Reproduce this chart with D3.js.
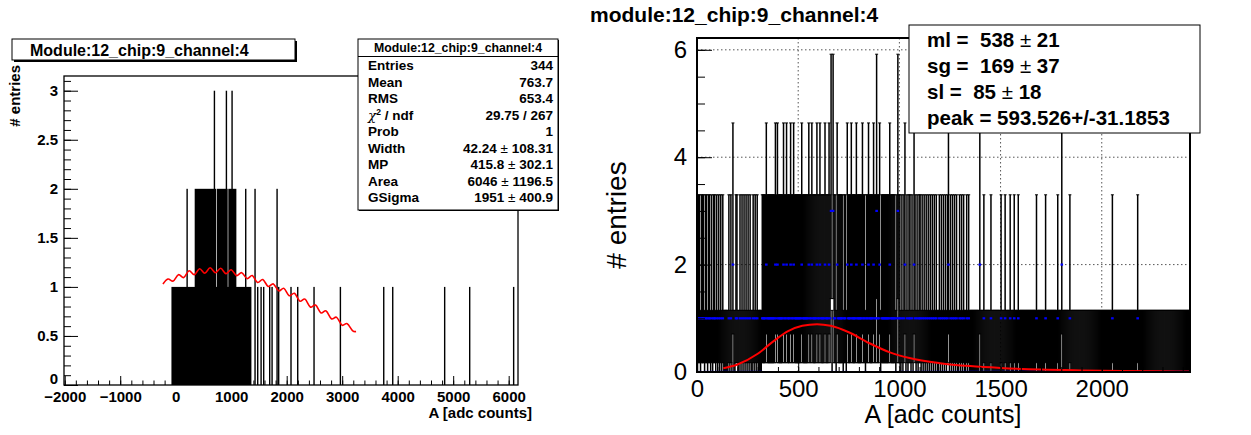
<!DOCTYPE html>
<html>
<head>
<meta charset="utf-8">
<script src="https://cdn.jsdelivr.net/npm/d3@7"></script>
<style>
  body { margin: 0; background: #fff; }
  text { font-family: "Liberation Sans", Arial, sans-serif; }
</style>
</head>
<body>
<svg id="chart" width="1251" height="435"></svg>
<script>
// ---------------- left panel data (histogram + langau fit) ----------------
var leftBinW = 20;
// contiguous runs of filled bins: [from, to, entries]
var leftRuns = [[-77, 1364, 1], [342, 727, 2], [739, 936, 2], [948, 1093, 2]];
var leftSpikes1 = [1465, 1526, 1573, 1681, 1724, 1843, 2065, 2186, 2480, 2955, 3736, 3898, 4834, 5285, 6077];
var leftSpikes2 = [193, 1249, 1417, 1814];
var leftSpikes3 = [685, 901, 1003];

var leftFitX = [-230, -140, -45, 50, 145, 240, 335, 430, 525, 620, 715, 810, 905, 1000, 1095, 1190, 1285, 1380,
  1475, 1570, 1665, 1760, 1855, 1950, 2045, 2140, 2235, 2330, 2425, 2520, 2615, 2710, 2805, 2900, 2995, 3090, 3185, 3250];
var leftFitY = [1.03, 1.08, 1.06, 1.125, 1.095, 1.165, 1.125, 1.185, 1.14, 1.195, 1.145, 1.19, 1.135, 1.175, 1.115, 1.145, 1.085, 1.115,
  1.045, 1.075, 1.005, 1.03, 0.96, 0.985, 0.91, 0.935, 0.855, 0.875, 0.795, 0.815, 0.735, 0.755, 0.675, 0.69, 0.61, 0.625, 0.555, 0.545];

var statNames = ["Entries", "Mean", "RMS", "chi2", "Prob", "Width", "MP", "Area", "GSigma"];
var statValues = [["344"], ["763.7"], ["653.4"], ["29.75 / 267"], ["1"], ["42.24", "108.31"], ["415.8", "302.1"], ["6046", "1196.5"], ["1951", "400.9"]];

var leftXTicks = [-2000, -1000, 0, 1000, 2000, 3000, 4000, 5000, 6000];
var leftYTicks = [0, 0.5, 1, 1.5, 2, 2.5, 3];

// ---------------- right panel data (error bars + fit) ----------------
var rBinW = 5;
var rCount1 = [5, 12, 20, 27, 33, 42, 48, 57, 63, 72, 80, 88, 97, 108, 118, 126,
  157, 166, 178, 190, 198, 212, 222, 233, 240, 253, 262, 277, 288, 298,
  322, 328, 333, 339, 346, 350, 356, 362, 368, 371, 377, 383, 390, 394, 401, 406, 412, 418, 423, 431, 437, 441,
  448, 452, 457, 466, 471, 476, 483, 488, 493, 498, 503, 508, 513, 522, 527, 533, 538, 543, 547, 556, 561, 571,
  576, 582, 587, 596, 601, 613, 618, 623, 628, 637, 643, 648, 657, 677, 683, 697, 703, 708, 713, 718, 727, 733,
  746, 752, 756, 767, 772, 778, 783, 793, 798, 803, 808, 814, 824, 829, 836, 842, 852, 857, 862, 867, 877, 882,
  893, 898, 910, 916, 922, 927, 933, 938, 944, 948, 957, 962, 968, 973, 978, 985, 997,
  1004, 1012, 1021, 1036, 1045, 1053, 1062, 1078, 1086, 1095, 1104, 1113, 1122, 1131, 1142, 1151, 1163, 1172,
  1184, 1196, 1207, 1218, 1226, 1237, 1252, 1261, 1274, 1283, 1296, 1307, 1318, 1331, 1342,
  1419, 1450, 1503, 1523, 1547, 1566, 1585, 1678, 1720, 1782, 1844, 2051, 2176];
var rCount2 = [176, 341, 385, 397, 427, 443, 460, 479, 517, 550, 566, 591, 608, 632, 653, 690, 740, 761, 789,
  819, 847, 872, 904, 954, 1028, 1070, 1243, 1399, 1803];
var rCount3 = [662, 670, 888, 992];
// Poisson 68% interval for 0..3 entries
var poisLo = [0, 0.173, 0.708, 1.367];
var poisHi = [1.148, 3.30, 4.638, 5.918];

var rightFitX = [130, 200, 300, 377, 450, 520, 593, 660, 750, 850, 950, 1050, 1200, 1350, 1500, 1700, 1900, 2100, 2300, 2436];
var rightFitY = [0.07, 0.14, 0.34, 0.57, 0.76, 0.86, 0.89, 0.86, 0.74, 0.54, 0.37, 0.26, 0.165, 0.11, 0.075, 0.045, 0.03, 0.02, 0.012, 0.008];

var fitLines = ["ml =  ", "sg =  ", "sl =  "];
var fitVals = [["538", "21"], ["169", "37"], ["85", "18"]];
var peakText = "peak = 593.526+/-31.1853";

var rightXTicks = [0, 500, 1000, 1500, 2000];
var rightYTicks = [0, 2, 4, 6];

var svg = d3.select("#chart");

// ================= LEFT PANEL =================
var lx = d3.scaleLinear().domain([-2013, 6168]).range([64, 518]);
var ly = d3.scaleLinear().domain([0, 3.15]).range([385, 76]);

svg.append("clipPath").attr("id", "clipL").append("rect")
  .attr("x", 64).attr("y", 76).attr("width", 454).attr("height", 309);

var gl = svg.append("g").attr("clip-path", "url(#clipL)");

gl.selectAll(".run").data(leftRuns).enter().append("rect")
  .attr("x", d => lx(d[0]))
  .attr("y", d => ly(d[2]))
  .attr("width", d => lx(d[1]) - lx(d[0]))
  .attr("height", d => ly(0) - ly(d[2]))
  .attr("fill", "#000");

var spikes = leftSpikes1.map(v => [v, 1]).concat(leftSpikes2.map(v => [v, 2]), leftSpikes3.map(v => [v, 3]));
gl.selectAll(".spike").data(spikes).enter().append("rect")
  .attr("x", d => lx(d[0]))
  .attr("y", d => ly(d[1]))
  .attr("width", Math.max(1.4, lx(leftBinW) - lx(0)))
  .attr("height", d => ly(0) - ly(d[1]))
  .attr("fill", "#000");

var leftLine = d3.line().x(d => lx(d[0])).y(d => ly(d[1])).curve(d3.curveCardinal);
gl.append("path")
  .attr("d", leftLine(leftFitX.map((x, i) => [x, leftFitY[i]])))
  .attr("fill", "none").attr("stroke", "#ff0000").attr("stroke-width", 1.6);

// axes (ticks inside the frame, ROOT style)
svg.append("g").attr("transform", "translate(0,385)")
  .call(d3.axisBottom(lx).tickValues(d3.range(-2000, 6101, 200)).tickSizeInner(-4.5).tickSizeOuter(0).tickFormat(""))
  .call(g => g.select(".domain").remove());
var lxa = svg.append("g").attr("transform", "translate(0,385)")
  .call(d3.axisBottom(lx).tickValues(leftXTicks).tickSizeInner(-9).tickSizeOuter(0).tickPadding(6).tickFormat(d3.format("d")));
lxa.select(".domain").remove();
lxa.selectAll("text").attr("font-size", 15).attr("font-weight", "bold").attr("fill", "#000");

svg.append("g").attr("transform", "translate(64,0)")
  .call(d3.axisLeft(ly).tickValues(d3.range(0, 3.11, 0.1)).tickSizeInner(-7).tickSizeOuter(0).tickFormat(""))
  .call(g => g.select(".domain").remove());
var lya = svg.append("g").attr("transform", "translate(64,0)")
  .call(d3.axisLeft(ly).tickValues(leftYTicks).tickSizeInner(-14).tickSizeOuter(0).tickPadding(6).tickFormat(d3.format("")));
lya.select(".domain").remove();
lya.selectAll("text").attr("font-size", 15).attr("font-weight", "bold").attr("fill", "#000");
// ROOT pushes the "0" label up a little so it sits above the x labels
lya.selectAll("text").filter(d => d === 0).attr("dy", "-0.1em");

svg.append("rect").attr("x", 64).attr("y", 76).attr("width", 454).attr("height", 309)
  .attr("fill", "none").attr("stroke", "#000").attr("stroke-width", 1.3);

svg.append("text").attr("x", 532).attr("y", 418).attr("text-anchor", "end")
  .attr("font-size", 15).attr("font-weight", "bold").text("A [adc counts]");
svg.append("text").attr("transform", "translate(20,65) rotate(-90)").attr("text-anchor", "end")
  .attr("font-size", 15).attr("font-weight", "bold").text("# entries");

// title box
svg.append("rect").attr("x", 14).attr("y", 41).attr("width", 283).attr("height", 21).attr("fill", "#000");
svg.append("rect").attr("x", 12).attr("y", 39).attr("width", 283).attr("height", 21)
  .attr("fill", "#fff").attr("stroke", "#000").attr("stroke-width", 1);
svg.append("text").attr("x", 30).attr("y", 55.5).attr("font-size", 16).attr("font-weight", "bold")
  .text("Module:12_chip:9_channel:4");

// stats box
svg.append("rect").attr("x", 359).attr("y", 40).attr("width", 200).attr("height", 171).attr("fill", "#000");
svg.append("rect").attr("x", 358).attr("y", 39).attr("width", 200).attr("height", 171)
  .attr("fill", "#fff").attr("stroke", "#000").attr("stroke-width", 1);
svg.append("line").attr("x1", 358).attr("x2", 558).attr("y1", 56.5).attr("y2", 56.5).attr("stroke", "#000");
svg.append("text").attr("x", 458).attr("y", 52).attr("text-anchor", "middle")
  .attr("font-size", 12.3).attr("font-weight", "bold").text("Module:12_chip:9_channel:4");

var rowY = d3.scaleLinear().domain([0, 8]).range([70, 202]);
statNames.forEach(function(name, i) {
  var t = svg.append("text").attr("x", 368).attr("y", rowY(i)).attr("font-size", 13.5).attr("font-weight", "bold");
  if (name === "chi2") {
    t.append("tspan").attr("font-family", "DejaVu Serif").attr("font-style", "italic").attr("font-weight", "normal").text("\u03c7");
    t.append("tspan").attr("dy", -5).attr("font-size", 8.5).text("2");
    t.append("tspan").attr("dy", 5).text(" / ndf");
  } else {
    t.text(name);
  }
  var v = svg.append("text").attr("x", 553).attr("y", rowY(i)).attr("text-anchor", "end")
    .attr("font-size", 13.5).attr("font-weight", "bold");
  var vals = statValues[i];
  v.append("tspan").text(vals[0]);
  if (vals.length > 1) {
    v.append("tspan").attr("font-weight", "normal").text(" \u00b1 ");
    v.append("tspan").text(vals[1]);
  }
});

// ================= RIGHT PANEL =================
var rx = d3.scaleLinear().domain([0, 2436]).range([697, 1190]);
var ry = d3.scaleLinear().domain([0, 6.22]).range([372, 38]);

svg.append("clipPath").attr("id", "clipR").append("rect")
  .attr("x", 697).attr("y", 38).attr("width", 493).attr("height", 334);

// grid
var grid = svg.append("g");
grid.selectAll(".gx").data(rightXTicks.slice(1)).enter().append("line")
  .attr("x1", d => rx(d)).attr("x2", d => rx(d)).attr("y1", 38).attr("y2", 372)
  .attr("stroke", "#555").attr("stroke-width", 1).attr("stroke-dasharray", "1.5,2.5");
grid.selectAll(".gy").data(rightYTicks.slice(1)).enter().append("line")
  .attr("x1", 697).attr("x2", 1190).attr("y1", d => ry(d)).attr("y2", d => ry(d))
  .attr("stroke", "#555").attr("stroke-width", 1).attr("stroke-dasharray", "1.5,2.5");

// bins
var counts = new Map();
rCount1.forEach(v => counts.set(Math.floor(v / rBinW), 1));
rCount2.forEach(v => counts.set(Math.floor(v / rBinW), 2));
rCount3.forEach(v => counts.set(Math.floor(v / rBinW), 3));
var nBins = Math.ceil(2436 / rBinW);
var bins = d3.range(nBins).map(i => ({ x: (i + 0.5) * rBinW, n: counts.get(i) || 0 }));

var gr = svg.append("g").attr("clip-path", "url(#clipR)");
var bars = gr.selectAll(".bar").data(bins).enter().append("g");
bars.append("line")
  .attr("x1", d => rx(d.x)).attr("x2", d => rx(d.x))
  .attr("y1", d => ry(poisLo[d.n])).attr("y2", d => ry(poisHi[d.n]))
  .attr("stroke", "#000").attr("stroke-width", 1.5);
bars.append("line")
  .attr("x1", d => rx(d.x) - 1.5).attr("x2", d => rx(d.x) + 1.5)
  .attr("y1", d => ry(poisHi[d.n])).attr("y2", d => ry(poisHi[d.n]))
  .attr("stroke", "#000").attr("stroke-width", 1);
bars.append("line")
  .attr("x1", d => rx(d.x) - 1.5).attr("x2", d => rx(d.x) + 1.5)
  .attr("y1", d => ry(poisLo[d.n])).attr("y2", d => ry(poisLo[d.n]))
  .attr("stroke", "#000").attr("stroke-width", 1);

gr.selectAll(".mk").data(bins).enter().append("rect")
  .attr("x", d => rx(d.x) - 1.3).attr("y", d => ry(d.n) - 1.1)
  .attr("width", 2.6).attr("height", 2.2).attr("fill", "#0000ff");

var rightLine = d3.line().x(d => rx(d[0])).y(d => ry(d[1])).curve(d3.curveMonotoneX);
gr.append("path")
  .attr("d", rightLine(rightFitX.map((x, i) => [x, rightFitY[i]])))
  .attr("fill", "none").attr("stroke", "#ff0000").attr("stroke-width", 2);

// axes
svg.append("g").attr("transform", "translate(0,372)")
  .call(d3.axisBottom(rx).tickValues(d3.range(0, 2401, 100)).tickSizeInner(-5).tickSizeOuter(0).tickFormat(""))
  .call(g => g.select(".domain").remove());
var rxa = svg.append("g").attr("transform", "translate(0,372)")
  .call(d3.axisBottom(rx).tickValues(rightXTicks).tickSizeInner(-10).tickSizeOuter(0).tickPadding(8).tickFormat(d3.format("d")));
rxa.select(".domain").remove();
rxa.selectAll("text").attr("font-size", 24).attr("fill", "#000");

svg.append("g").attr("transform", "translate(697,0)")
  .call(d3.axisLeft(ry).tickValues(d3.range(0, 6.01, 0.5)).tickSizeInner(-8).tickSizeOuter(0).tickFormat(""))
  .call(g => g.select(".domain").remove());
var rya = svg.append("g").attr("transform", "translate(697,0)")
  .call(d3.axisLeft(ry).tickValues(rightYTicks).tickSizeInner(-15).tickSizeOuter(0).tickPadding(10).tickFormat(d3.format("d")));
rya.select(".domain").remove();
rya.selectAll("text").attr("font-size", 24).attr("fill", "#000");

svg.append("rect").attr("x", 697).attr("y", 38).attr("width", 493).attr("height", 334)
  .attr("fill", "none").attr("stroke", "#000").attr("stroke-width", 2);

svg.append("text").attr("x", 943).attr("y", 423).attr("text-anchor", "middle")
  .attr("font-size", 25).text("A [adc counts]");
svg.append("text").attr("transform", "translate(626,215) rotate(-90)").attr("text-anchor", "middle")
  .attr("font-size", 28).text("# entries");

svg.append("text").attr("x", 590).attr("y", 22).attr("font-size", 21).attr("font-weight", "bold")
  .text("module:12_chip:9_channel:4");

// fit result box
svg.append("rect").attr("x", 909).attr("y", 25).attr("width", 291).attr("height", 108)
  .attr("fill", "#fff").attr("stroke", "#000").attr("stroke-width", 1);
var fitY = d3.scaleLinear().domain([0, 3]).range([47, 125]);
fitLines.forEach(function(lbl, i) {
  var t = svg.append("text").attr("x", 927).attr("y", fitY(i)).attr("font-size", 20.5).attr("font-weight", "bold")
    .attr("xml:space", "preserve");
  t.append("tspan").text(lbl + fitVals[i][0]);
  t.append("tspan").attr("font-weight", "normal").text(" \u00b1 ");
  t.append("tspan").text(fitVals[i][1]);
});
svg.append("text").attr("x", 927).attr("y", fitY(3)).attr("font-size", 20.5).attr("font-weight", "bold").text(peakText);
</script>
</body>
</html>
